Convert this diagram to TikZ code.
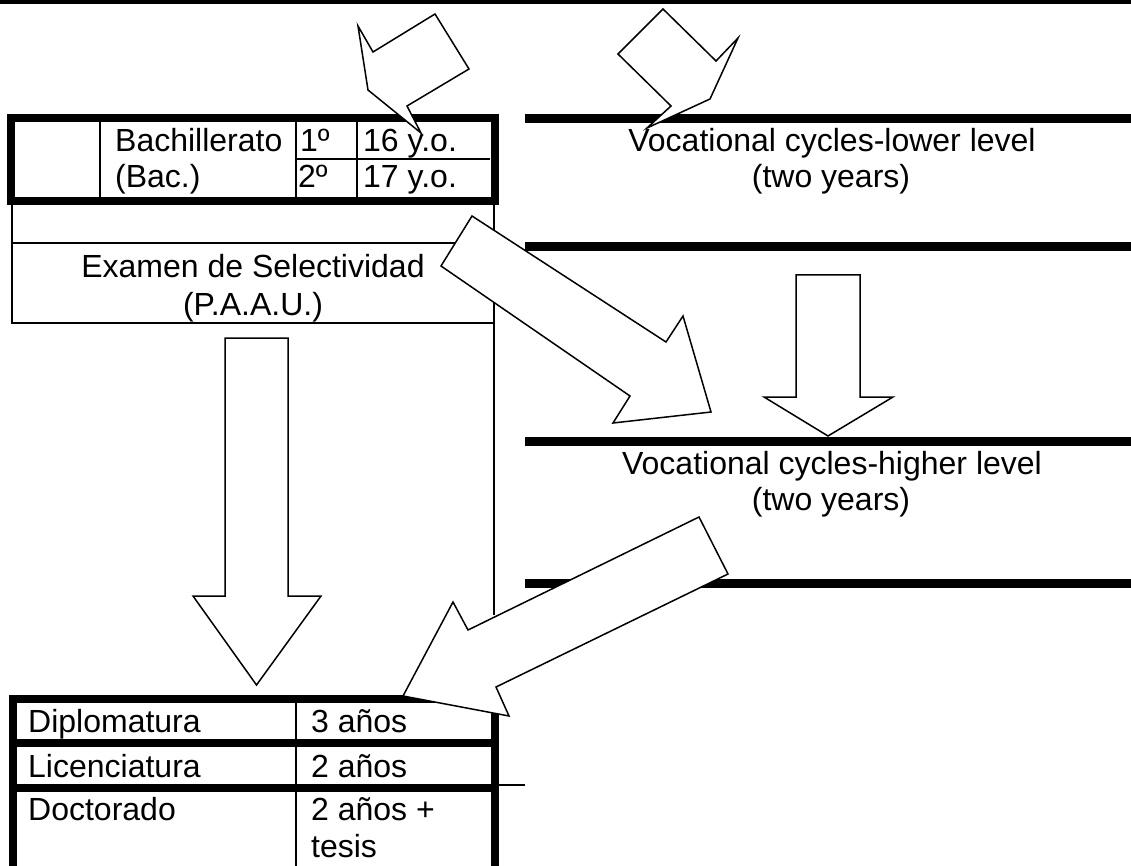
\documentclass[tikz,border=0pt]{standalone}
\usepackage{fontspec}
\setmainfont{Liberation Sans}
\begin{document}
\begin{tikzpicture}[x=1pt,y=-1pt,
  bar/.style={line width=8.5pt},
  frame/.style={line width=8pt},
  rule/.style={line width=1.8pt},
  blockarrow/.style={draw=black, fill=white, line width=1.5pt, line join=miter},
  lbl/.style={inner sep=0pt, font=\fontsize{32}{36}\selectfont, anchor=base west},
  clbl/.style={inner sep=0pt, font=\fontsize{32}{36}\selectfont, anchor=base}]
\useasboundingbox (0,0) rectangle (1131,866);
\clip (0,0) rectangle (1131,866);
% top rule
\fill (0,-2) rectangle (1131,4.5);
% right-hand bars
\draw[bar] (525,118.5) -- (1131,118.5);
\draw[bar] (525,246.5) -- (1131,246.5);
\draw[bar] (525,441.5) -- (1131,441.5);
\draw[bar] (525,583.5) -- (1131,583.5);
% Bachillerato table
\draw[frame] (11,118) rectangle (494.5,201);
\draw[rule] (100,122) -- (100,197);
\draw[rule] (296,122) -- (296,197);
\draw[rule] (357,122) -- (357,197);
\draw[rule] (296,159) -- (490,159);
% Examen box
\draw[rule] (12,205) -- (12,323) -- (494,323);
\draw[rule] (12,243) -- (494,243);
\draw[rule] (494,205) -- (494,615);
% bottom table
\draw[frame] (12.5,880) -- (12.5,699) -- (494.5,699) -- (494.5,880);
\draw[frame] (12.5,743) -- (494.5,743);
\draw[frame] (12.5,788) -- (494.5,788);
\draw[rule] (296,703) -- (296,870);
\draw[rule] (499,785) -- (525,785);
% block arrows
\draw[blockarrow] (358,26) -- (373,52) -- (435,14) -- (469,69) -- (407,106) -- (421,133) -- (368,90) -- cycle;
\draw[blockarrow] (663,9) -- (618,54) -- (671,106) -- (647,128) -- (710,99) -- (738,38) -- (716,61) -- cycle;
\draw[blockarrow] (472,216) -- (666,342) -- (683,316) -- (711,412) -- (613,423) -- (630,396) -- (441,266) -- cycle;
\draw[blockarrow] (225,338) -- (288,338) -- (288,596) -- (321,596) -- (256.5,685) -- (193,596) -- (225,596) -- cycle;
\draw[blockarrow] (796,275) -- (860,275) -- (860,397) -- (893,397) -- (828,436) -- (764,397) -- (796,397) -- cycle;
\draw[blockarrow] (699,517) -- (468,630) -- (453,602) -- (403,696) -- (509,716) -- (496,687) -- (728,574) -- cycle;
% texts
\node[lbl] (bac1) at (115,152) {Bachillerato};
\node[lbl] (bac2) at (115,188) {(Bac.)};
\node[lbl] (c1) at (300,152) {1º};
\node[lbl] (c2) at (298,188) {2º};
\node[lbl] (a1) at (363,152) {16 y.o.};
\node[lbl] (a2) at (363,188) {17 y.o.};
\node[clbl] (ex1) at (253,278) {Examen de Selectividad};
\node[clbl] (ex2) at (253,316) {(P.A.A.U.)};
\node[clbl] (vl1) at (832,152) {Vocational cycles-lower level};
\node[clbl] (vl2) at (831,188) {(two years)};
\node[clbl] (vh1) at (832,474) {Vocational cycles-higher level};
\node[clbl] (vh2) at (831,510) {(two years)};
\node[lbl] (d1) at (28,732) {Diplomatura};
\node[lbl] (d2) at (311,732) {3 años};
\node[lbl] (l1) at (28,777) {Licenciatura};
\node[lbl] (l2) at (311,777) {2 años};
\node[lbl] (o1) at (28,820) {Doctorado};
\node[lbl] (o2) at (311,820) {2 años +};
\node[lbl] (o3) at (311,857) {tesis};
\end{tikzpicture}
\end{document}
